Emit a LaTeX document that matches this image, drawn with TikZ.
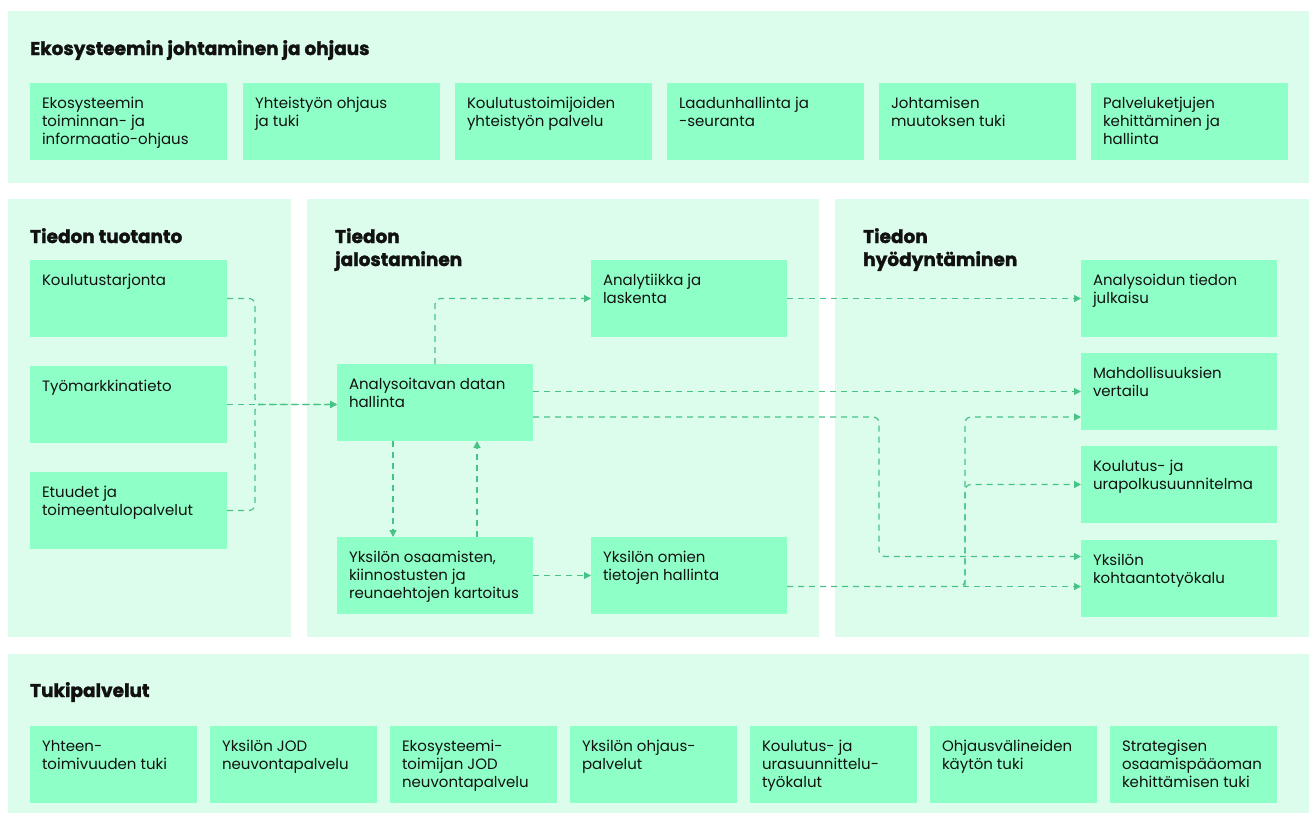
\documentclass[tikz,border=0pt]{standalone}
\usepackage{fontspec}
\setmainfont{Poppins}[BoldFeatures={FakeBold=1.6}]
\usetikzlibrary{arrows.meta,calc}
\definecolor{panelbg}{HTML}{DCFDEB}
\definecolor{boxbg}{HTML}{8FFFC8}
\definecolor{conncol}{HTML}{45C486}
\definecolor{txt}{HTML}{111111}
\newcommand{\bl}[2]{\makebox[\dimexpr#1pt-24pt\relax][l]{\begin{tabular}[t]{@{}l@{}}#2\end{tabular}}}
\newcommand{\tl}[1]{\begin{tabular}[t]{@{}l@{}}#1\end{tabular}}
\tikzset{
  boxnode/.style={fill=boxbg, anchor=north west, inner xsep=12pt, inner ysep=12.4pt,
    text height=12.6pt, text depth=39.6pt, outer sep=0pt,
    font=\fontsize{15}{18.3}\selectfont, text=txt},
  titlenode/.style={anchor=base west, inner sep=0pt, text=txt,
    font=\fontsize{18.5}{23}\selectfont\bfseries},
  conn/.style={draw=conncol, line width=1.2pt, dash pattern=on 6pt off 5pt,
    rounded corners=6pt, -{Triangle[length=7pt,width=7pt]}}
}
\begin{document}
\begin{tikzpicture}[x=1pt,y=-1pt]
\useasboundingbox (0,0) rectangle (1309,814);
\fill[white] (0,0) rectangle (1309,814);
% panels
\fill[panelbg] (8,11) rectangle (1309,183);
\fill[panelbg] (8,199) rectangle (291,637);
\fill[panelbg] (307,199) rectangle (819,637);
\fill[panelbg] (835,199) rectangle (1309,637);
\fill[panelbg] (8,654) rectangle (1309,813);
% titles
\node[titlenode] (T1) at (30,55) {Ekosysteemin johtaminen ja ohjaus};
\node[titlenode] (T2) at (30,243) {Tiedon tuotanto};
\node[titlenode] (T3) at (335,243) {\tl{Tiedon\\jalostaminen}};
\node[titlenode] (T4) at (863,243) {\tl{Tiedon\\hyödyntäminen}};
\node[titlenode] (T5) at (30,697) {Tukipalvelut};
% top row
\node[boxnode] (t1) at (30,83) {\bl{197}{Ekosysteemin\\toiminnan- ja\\informaatio-ohjaus}};
\node[boxnode] (t2) at (243,83) {\bl{197}{Yhteistyön ohjaus\\ja tuki}};
\node[boxnode] (t3) at (455,83) {\bl{197}{Koulutustoimijoiden\\yhteistyön palvelu}};
\node[boxnode] (t4) at (667,83) {\bl{197}{Laadunhallinta ja\\-seuranta}};
\node[boxnode] (t5) at (879,83) {\bl{197}{Johtamisen\\muutoksen tuki}};
\node[boxnode] (t6) at (1091,83) {\bl{197}{Palveluketjujen\\kehittäminen ja\\hallinta}};
% left
\node[boxnode] (koul) at (30,260) {\bl{197}{Koulutustarjonta}};
\node[boxnode] (tyom) at (30,366) {\bl{197}{Työmarkkinatieto}};
\node[boxnode] (etu) at (30,472) {\bl{197}{Etuudet ja\\toimeentulopalvelut}};
% middle
\node[boxnode] (anal) at (337,364) {\bl{196}{Analysoitavan datan\\hallinta}};
\node[boxnode] (analyt) at (591,260) {\bl{196}{Analytiikka ja\\laskenta}};
\node[boxnode] (yks) at (337,537) {\bl{196}{Yksilön osaamisten,\\kiinnostusten ja\\reunaehtojen kartoitus}};
\node[boxnode] (omat) at (591,537) {\bl{196}{Yksilön omien\\tietojen hallinta}};
% right
\node[boxnode] (jul) at (1081,260) {\bl{196}{Analysoidun tiedon\\julkaisu}};
\node[boxnode] (mahd) at (1081,353) {\bl{196}{Mahdollisuuksien\\vertailu}};
\node[boxnode] (urap) at (1081,446) {\bl{196}{Koulutus- ja\\urapolkusuunnitelma}};
\node[boxnode] (kohd) at (1081,540) {\bl{196}{Yksilön\\kohtaantotyökalu}};
% bottom
\node[boxnode] (b1) at (30,726) {\bl{167}{Yhteen-\\toimivuuden tuki}};
\node[boxnode] (b2) at (210,726) {\bl{167}{Yksilön JOD\\neuvontapalvelu}};
\node[boxnode] (b3) at (390,726) {\bl{167}{Ekosysteemi-\\toimijan JOD\\neuvontapalvelu}};
\node[boxnode] (b4) at (570,726) {\bl{167}{Yksilön ohjaus-\\palvelut}};
\node[boxnode] (b5) at (750,726) {\bl{167}{Koulutus- ja\\urasuunnittelu-\\työkalut}};
\node[boxnode] (b6) at (930,726) {\bl{167}{Ohjausvälineiden\\käytön tuki}};
\node[boxnode] (b7) at (1110,726) {\bl{167}{Strategisen\\osaamispääoman\\kehittämisen tuki}};
% helper coordinates
\coordinate (jx) at (255,0);
\coordinate (gx) at (879,0);
\coordinate (kx) at (965,0);
\coordinate (kohdA) at ($(kohd.west)+(0,-22)$);
\coordinate (mahdB) at ($(mahd.west)+(0,25.5)$);
\coordinate (analB) at ($(anal.east)+(0,14.5)$);
\coordinate (omo) at ($(omat.east)+(0,11)$);
% connectors
\draw[conn] (koul.east) -| (jx |- tyom.east) -- (tyom.east -| anal.west);
\draw[conn] (etu.east) -| (jx |- tyom.east) -- (tyom.east -| anal.west);
\draw[conn] (tyom.east) -- (tyom.east -| anal.west);
\draw[conn] (anal.north) |- (analyt.west);
\draw[conn] (analyt.east) -- (jul.west);
\draw[conn] (anal.east |- mahd.west) -- (mahd.west);
\draw[conn] (analB) -| (gx |- kohdA) -- (kohdA);
\draw[conn] ($(anal.south)+(-42,0)$) -- ($(yks.north)+(-42,0)$);
\draw[conn] ($(yks.north)+(42,0)$) -- ($(anal.south)+(42,0)$);
\draw[conn] (yks.east) -- (omat.west);
\draw[conn] (omo) -- (omo -| kohd.west);
\draw[conn] (omo) -| (kx |- mahdB) -- (mahdB);
\draw[conn] (kx |- omo) |- (urap.west);
\end{tikzpicture}
\end{document}
